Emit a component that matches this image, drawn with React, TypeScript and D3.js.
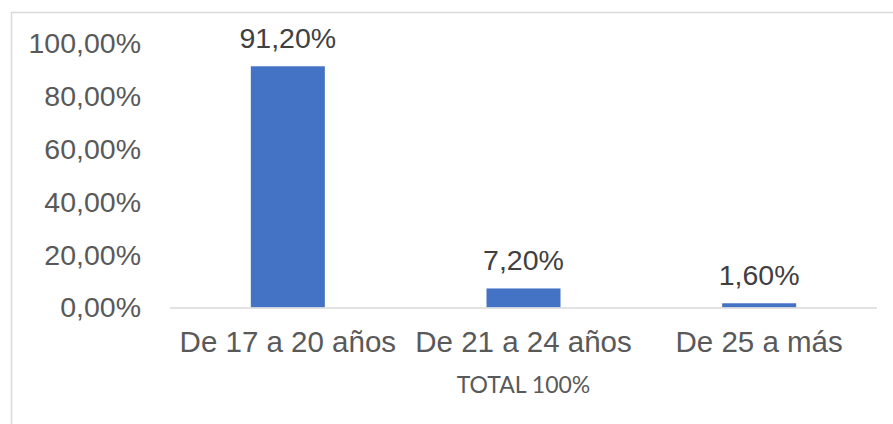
import React from 'react'
import * as d3 from 'd3'

const categories = ['De 17 a 20 años', 'De 21 a 24 años', 'De 25 a más']
const values = [91.2, 7.2, 1.6]
const yTicks = [0, 20, 40, 60, 80, 100]
const axisTitle = 'TOTAL 100%'

const W = 893
const H = 424
const fmt = (v: number) => v.toFixed(2).replace('.', ',') + '%'

export default function App() {
  const margin = { top: 43, right: 16, bottom: 116.5, left: 170 }
  const innerW = W - margin.left - margin.right
  const innerH = H - margin.top - margin.bottom

  const x = d3.scaleBand().domain(categories).range([0, innerW]).paddingInner(0.686).paddingOuter(0.343)
  const y = d3.scaleLinear().domain([0, 100]).range([innerH, 0])

  const font = 'Liberation Sans, Arial, sans-serif'

  return (
    <svg width={W} height={H} style={{ position: 'absolute', left: 0, top: 0, background: '#fff' }}>
      {/* chart border */}
      <rect x={11.5} y={12.5} width={W + 10} height={H + 10} fill="#fff" stroke="#d9d9d9" strokeWidth={1.5} />
      <g transform={`translate(${margin.left},${margin.top})`}>
        {yTicks.map((t) => (
          <text
            key={t}
            x={-29}
            y={y(t)}
            dy="0.35em"
            textAnchor="end"
            fontFamily={font}
            fontSize={28.5}
            fill="#595959"
          >
            {fmt(t)}
          </text>
        ))}
        {categories.map((c, i) => (
          <g key={c}>
            <rect x={x(c)} y={y(values[i])} width={x.bandwidth()} height={innerH - y(values[i])} fill="#4472c4" />
            <text
              x={(x(c) as number) + x.bandwidth() / 2}
              y={y(values[i]) - 18}
              textAnchor="middle"
              fontFamily={font}
              fontSize={28.5}
              fill="#404040"
            >
              {fmt(values[i])}
            </text>
            <text
              x={(x(c) as number) + x.bandwidth() / 2}
              y={innerH + 44}
              textAnchor="middle"
              fontFamily={font}
              fontSize={29.5}
              fill="#595959"
            >
              {c}
            </text>
          </g>
        ))}
        <line x1={0} x2={innerW} y1={innerH + 0.5} y2={innerH + 0.5} stroke="#d9d9d9" strokeWidth={1.5} />
        <text
          x={innerW / 2}
          y={innerH + 85}
          textAnchor="middle"
          fontFamily="Lato, 'Open Sans', sans-serif"
          fontSize={23}
          fill="#595959"
        >
          {axisTitle}
        </text>
      </g>
    </svg>
  )
}
